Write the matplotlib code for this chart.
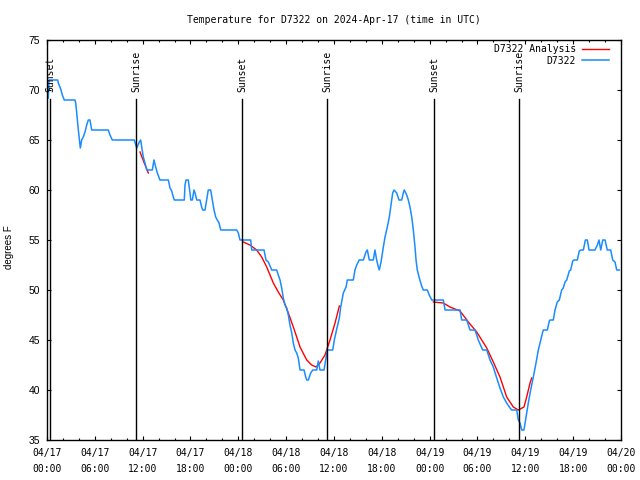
import numpy as np
import matplotlib
matplotlib.use('Agg')
import matplotlib.pyplot as plt
import matplotlib.dates as mdates

# hours since 2024-04-17 00:00 UTC, temperature in F
obs_hours = [0.16, 0.25, 1.34, 1.42, 1.76, 1.92, 2.17, 3.51, 3.6, 3.73, 3.93, 4.1, 4.18,
             4.35, 4.55, 4.77, 4.98, 5.18, 5.39, 5.61, 7.69, 7.9, 8.19, 10.95, 11.13,
             11.25, 11.58, 11.75, 11.88, 12.08, 12.29, 12.51, 13.21, 13.42, 13.63, 13.84,
             14.17, 15.22, 15.43, 15.64, 15.84, 15.97, 17.22, 17.31, 17.44, 17.72, 17.94,
             18.03, 18.23, 18.44, 18.57, 18.78, 19.19, 19.4, 19.53, 19.82, 20.03, 20.23,
             20.53, 20.74, 20.95, 21.16, 21.36, 21.58, 21.79, 23.8, 24.0, 24.21, 25.55,
             25.68, 27.22, 27.47, 27.76, 28.19, 28.81, 29.01, 29.23, 29.44, 29.64, 29.85,
             30.07, 30.27, 30.48, 30.7, 30.9, 31.11, 31.32, 31.52, 31.74, 32.24, 32.45,
             32.58, 32.78, 33.08, 33.33, 33.83, 34.03, 34.24, 34.75, 35.0, 35.16, 35.84,
             36.04, 36.34, 36.67, 36.82, 37.17, 37.51, 37.67, 38.42, 38.63, 38.85, 39.17,
             39.68, 40.01, 40.18, 40.43, 40.93, 41.14, 41.35, 41.56, 41.68, 41.9, 42.19,
             42.4, 42.69, 42.94, 43.15, 43.36, 43.53, 43.87, 44.15, 44.49, 44.69, 44.82,
             45.12, 45.32, 45.53, 45.75, 45.95, 46.16, 46.29, 46.45, 46.7, 47.0, 47.2,
             47.7, 47.95, 48.26, 49.71, 49.93, 51.81, 52.02, 52.65, 53.06, 53.69, 54.1,
             54.65, 55.16, 55.57, 55.98, 56.41, 56.82, 57.24, 57.66, 58.08, 58.29, 58.92,
             59.12, 59.33, 59.55, 59.83, 60.09, 60.37, 60.67, 61.0, 61.34, 61.63, 61.93,
             62.18, 62.26, 62.76, 63.01, 63.1, 63.51, 63.72, 64.01, 64.26, 64.56, 64.76,
             64.98, 65.19, 65.52, 65.69, 65.94, 66.11, 66.52, 66.77, 66.95, 67.28, 67.53,
             67.78, 67.99, 68.74, 69.03, 69.24, 69.46, 69.71, 70.0, 70.28, 70.71, 70.96,
             71.25, 71.46, 71.79]
obs_temp = [69.2, 71, 71, 70.7, 70, 69.5, 69, 69, 68.7, 67.7, 66, 64.8, 64.2,
            65, 65.3, 65.8, 66.5, 67, 67, 66, 66, 65.5, 65, 65, 64.5,
            64.2, 64.8, 65, 64.3, 63.3, 62.7, 62, 62, 63, 62.3, 61.7,
            61, 61, 60.2, 59.9, 59.3, 59, 59, 60.5, 61, 61, 59.7,
            59, 59, 60, 59.7, 59, 59, 58.3, 58, 58, 59, 60,
            60, 59, 58, 57.3, 57, 56.7, 56, 56, 55.7, 55, 55,
            54, 54, 53, 52.8, 52, 52, 51.5, 51, 50.2, 49.2, 48.5,
            48.2, 47.5, 46.5, 45.7, 44.7, 44, 43.7, 43.2, 42, 42, 41.3,
            41, 41, 41.7, 42, 42, 42.9, 42, 42, 43.2, 44, 44,
            45, 46.1, 47.2, 48.2, 49.7, 50.3, 51, 51, 52, 52.5, 53,
            53, 53.8, 54, 53, 53, 54, 53, 52.3, 52, 52.8, 54.3,
            55.3, 56.3, 57.3, 58.5, 59.7, 60, 59.7, 59, 59, 59.7, 60,
            59.5, 59, 58.3, 57.3, 56, 54.3, 53, 52, 51.2, 50.4, 50,
            50, 49.5, 49, 49, 48, 48, 47, 47, 46, 46, 45,
            44, 44, 43, 42.3, 41.2, 40.2, 39.3, 38.7, 38.2, 38, 38,
            37, 36.7, 36, 36, 37.3, 38.7, 40, 41.3, 42.7, 44, 45,
            45.8, 46, 46, 46.9, 47, 47, 48, 48.8, 49, 50, 50.2,
            50.8, 51, 51.9, 52, 52.9, 53, 53, 53.9, 54, 54, 55,
            55, 54, 54, 54.5, 55, 54, 55, 55, 54, 54, 53,
            52.8, 52, 52]

# analysis segments
ana1_hours = [11.67, 12.2, 12.71]
ana1_temp = [63.8, 62.7, 61.7]
ana2_hours = [24.62, 25.46, 26.3, 26.93, 27.56, 28.39, 29.01, 29.64, 30.27, 30.9,
              31.74, 32.58, 33.2, 33.74, 34.24, 34.87, 35.5, 36.13, 36.67]
ana2_temp = [54.8, 54.5, 54, 53.3, 52.3, 50.7, 49.8, 49, 47.7, 46.3,
             44.3, 43, 42.5, 42.3, 42.7, 43.5, 45, 46.7, 48.4]
ana3_hours = [48.46, 49.71, 50.55, 51.81, 52.85, 53.9, 55.16, 55.98, 56.82, 57.66,
              58.49, 59.12, 59.83, 60.17, 60.59, 60.8]
ana3_temp = [48.8, 48.7, 48.3, 47.9, 46.8, 45.8, 44.2, 42.8, 41.3, 39.3,
             38.3, 38, 38.3, 39.3, 40.7, 41.2]

event_hours = [0.38, 11.2, 24.5, 35.16, 48.58, 59.24]
event_names = ['Sunset', 'Sunrise', 'Sunset', 'Sunrise', 'Sunset', 'Sunrise']

start = np.datetime64('2024-04-17T00:00:00')


def to_time(hours):
    secs = np.round(np.asarray(hours, dtype=float) * 3600).astype(int)
    return start + secs.astype('timedelta64[s]')


mono = 'DejaVu Sans Mono'
sans = 'Liberation Sans'

fig = plt.figure(figsize=(6.4, 4.8), dpi=100)
ax = fig.add_axes([47 / 640, 40 / 480, 574 / 640, 400 / 480])

blue = '#1a8cff'
red = '#ff0000'

ax.plot(to_time(ana1_hours), ana1_temp, color=red, lw=1.0, label='D7322 Analysis')
ax.plot(to_time(ana2_hours), ana2_temp, color=red, lw=1.0)
ax.plot(to_time(ana3_hours), ana3_temp, color=red, lw=1.0)
ax.plot(to_time(obs_hours), obs_temp, color=blue, lw=1.1, label='D7322')

for h, name in zip(event_hours, event_names):
    t = to_time([h])[0]
    ax.axvline(t, ymin=0, ymax=0.8525, color='black', lw=1.0)
    ax.text(t, 0.87, name, transform=ax.get_xaxis_transform(), rotation=90,
            ha='center', va='bottom', fontsize=7, family=mono)

ax.set_xlim(to_time([0])[0], to_time([72])[0])
ax.set_ylim(35, 75)
ax.set_yticks(np.arange(35, 76, 5))

ax.xaxis.set_major_locator(mdates.HourLocator(byhour=[0, 6, 12, 18]))
ax.xaxis.set_minor_locator(mdates.HourLocator(interval=2))
ax.xaxis.set_major_formatter(mdates.DateFormatter('%m/%d\n%H:%M'))

ax.tick_params(which='both', direction='in', top=True, right=True, width=0.8)
ax.tick_params(which='major', length=3.2)
ax.tick_params(which='minor', length=1.6)
ax.tick_params(axis='x', pad=6)
ax.tick_params(axis='y', pad=5)

for lab in ax.get_xticklabels():
    lab.set_family(mono)
    lab.set_fontsize(7)
    lab.set_linespacing(1.65)
for lab in ax.get_yticklabels():
    lab.set_family(sans)
    lab.set_fontsize(7.5)

ax.set_ylabel('degrees F', family=sans, fontsize=7)
ax.yaxis.set_label_coords(-0.058, 0.482)
ax.set_title('Temperature for D7322 on 2024-Apr-17 (time in UTC)',
             family=mono, fontsize=7, pad=12)

for s in ax.spines.values():
    s.set_linewidth(1.0)

ax.legend(loc='upper right', bbox_to_anchor=(1 - 11.7 / 574, 0.989), frameon=False,
          markerfirst=False, prop={'family': mono, 'size': 7}, handlelength=2.85,
          handletextpad=0.6, labelspacing=0.15, borderpad=0, borderaxespad=0)

fig.savefig('out.png', dpi=100)
